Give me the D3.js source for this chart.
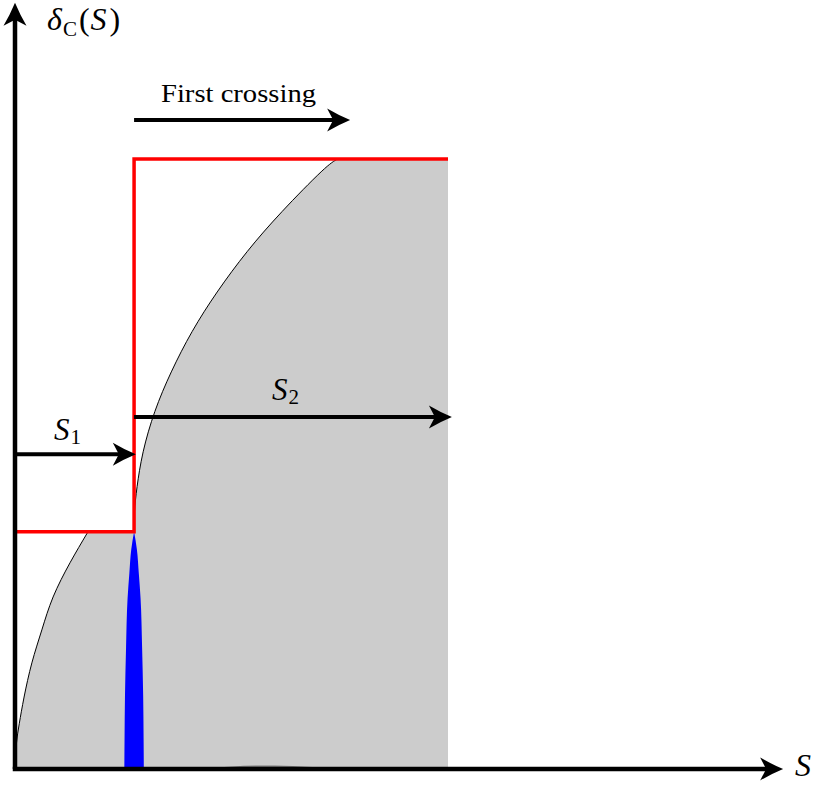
<!doctype html>
<html lang="en">
  <head>
    <meta charset="utf-8">
    <script src="https://cdn.jsdelivr.net/npm/d3@7"></script>
    <style>
      body {margin:0; background:white}
      svg {display:block}
      text {font-family: 'Liberation Serif', 'DejaVu Serif', 'Times New Roman', serif; fill:black}
    </style>
    <title>First crossing</title>
  </head>
  <body>
    <script>
      // left branch of the barrier curve (S, delta), from the origin up to the first red level
      const leftCurveS     = [0, 0.03, 0.10, 0.21, 0.39, 0.62, 0.88, 1.27, 1.67];
      const leftCurveDelta = [0, 0.40, 0.75, 1.18, 1.74, 2.28, 2.82, 3.38, 3.87];

      // right branch, starting at the step S1 and reaching the upper red level
      const rightCurveS     = [2.75, 2.76, 2.82, 2.96, 3.23, 3.61, 4.09, 4.67, 5.36, 6.17, 7.07, 7.45];
      const rightCurveDelta = [3.89, 4.22, 4.63, 5.20, 5.86, 6.51, 7.17, 7.82, 8.48, 9.14, 9.79, 10.0];

      // red step barrier
      const stepS     = [0, 2.75, 2.75, 10];
      const stepDelta = [3.89, 3.89, 10, 10];

      const grayEndS = 10;   // right edge of shaded region
      const topDelta = 10;

      // blue spike at S1: delta levels and half widths in S
      const s1 = 2.75;
      const blueDelta = [0, 0.5, 1.2, 2.0, 2.8, 3.2, 3.6, 3.89];
      const blueHalf  = [0.225, 0.22, 0.21, 0.185, 0.15, 0.11, 0.065, 0];

      // faint hump on the S axis
      const humpS = [4.3, 5.0, 5.8, 6.6, 7.6];
      const humpH = [0, 0.045, 0.065, 0.045, 0];

      // arrows: [fromS, toS, delta]
      const arrowS1    = [0, 2.79, 5.16];
      const arrowS2    = [2.75, 10.09, 5.77];
      const arrowFirst = [2.75, 7.74, 10.64];
      const axisEndS = 17.74;
      const axisEndDelta = 12.56;

      const W = 819, H = 787;
      let x = d3.scaleLinear().domain([0, 10]).range([15, 448]);
      let y = d3.scaleLinear().domain([0, 10]).range([769, 159]);

      let svg = d3.select("body").append("svg")
        .attr("width", W)
        .attr("height", H);

      // arrowhead marker (stealth-like); line stops 8px before the tip
      let defs = svg.append("defs");
      defs.append("marker")
        .attr("id", "head")
        .attr("markerUnits", "userSpaceOnUse")
        .attr("viewBox", "-1 -13 26 26")
        .attr("markerWidth", 26)
        .attr("markerHeight", 26)
        .attr("refX", 15)
        .attr("refY", 0)
        .attr("orient", "auto")
        .append("path")
        .attr("d", "M23,0 Q11,5 0,11.5 L6,0 L0,-11.5 Q11,-5 23,0 Z")
        .attr("fill", "black");

      let pts = (sArr, dArr) => sArr.map((s, i) => [s, dArr[i]]);
      let leftPts = pts(leftCurveS, leftCurveDelta);
      let rightPts = pts(rightCurveS, rightCurveDelta);

      let curveLine = d3.line()
        .x(d => x(d[0]))
        .y(d => y(d[1]))
        .curve(d3.curveNatural);

      // shaded region
      let region = curveLine(leftPts)
        + "L" + curveLine(rightPts).slice(1)
        + "L" + x(grayEndS) + "," + y(topDelta)
        + "L" + x(grayEndS) + "," + y(0) + "Z";
      svg.append("path")
        .attr("d", region)
        .attr("fill", "#cccccc");

      // faint hump near the axis
      svg.append("path")
        .datum(pts(humpS, humpH))
        .attr("d", d3.area().x(d => x(d[0])).y0(y(0)).y1(d => y(d[1])).curve(d3.curveBasis))
        .attr("fill", "#555")
        .attr("opacity", 0.7);

      // curve outlines
      svg.append("path")
        .attr("d", curveLine(leftPts))
        .attr("fill", "none")
        .attr("stroke", "black")
        .attr("stroke-width", 1);
      svg.append("path")
        .attr("d", curveLine(rightPts))
        .attr("fill", "none")
        .attr("stroke", "black")
        .attr("stroke-width", 1);

      // blue spike
      svg.append("path")
        .datum(blueDelta.map((d, i) => ({d: d, h: blueHalf[i]})))
        .attr("d", d3.area()
          .y(p => y(p.d))
          .x0(p => x(s1 - p.h))
          .x1(p => x(s1 + p.h))
          .curve(d3.curveMonotoneY))
        .attr("fill", "#0000ff");

      // red step
      svg.append("path")
        .attr("d", d3.line().x(d => x(d[0])).y(d => y(d[1]))(pts(stepS, stepDelta)))
        .attr("fill", "none")
        .attr("stroke", "#ff0000")
        .attr("stroke-width", 3.5);

      // arrows
      [arrowS1, arrowS2, arrowFirst].forEach(a => {
        svg.append("line")
          .attr("x1", x(a[0])).attr("x2", x(a[1]) - 8)
          .attr("y1", y(a[2])).attr("y2", y(a[2]))
          .attr("stroke", "black")
          .attr("stroke-width", 4)
          .attr("marker-end", "url(#head)");
      });

      // axes
      svg.append("line")
        .attr("x1", x(0) - 2.25).attr("x2", x(axisEndS) - 8)
        .attr("y1", y(0)).attr("y2", y(0))
        .attr("stroke", "black")
        .attr("stroke-width", 4.5)
        .attr("marker-end", "url(#head)");
      svg.append("line")
        .attr("x1", x(0)).attr("x2", x(0))
        .attr("y1", y(0)).attr("y2", y(axisEndDelta) + 8)
        .attr("stroke", "black")
        .attr("stroke-width", 4.5)
        .attr("marker-end", "url(#head)");

      // labels
      let yLab = svg.append("text")
        .attr("x", 47).attr("y", 30)
        .attr("font-size", 32);
      yLab.append("tspan").attr("font-style", "italic").text("δ");
      yLab.append("tspan").attr("dx", 1).attr("font-size", 21).attr("dy", 6).text("C");
      yLab.append("tspan").attr("dx", 2).attr("dy", -6).text("(");
      yLab.append("tspan").attr("dx", 1).attr("font-style", "italic").text("S");
      yLab.append("tspan").attr("dx", 3).text(")");

      svg.append("text")
        .attr("x", 795).attr("y", 776)
        .attr("font-size", 32)
        .attr("font-style", "italic")
        .text("S");

      let s1Lab = svg.append("text")
        .attr("x", 54).attr("y", 440)
        .attr("font-size", 31);
      s1Lab.append("tspan").attr("font-style", "italic").text("S");
      s1Lab.append("tspan").attr("dx", 1).attr("font-size", 21).attr("dy", 4).text("1");

      let s2Lab = svg.append("text")
        .attr("x", 272).attr("y", 400)
        .attr("font-size", 31);
      s2Lab.append("tspan").attr("font-style", "italic").text("S");
      s2Lab.append("tspan").attr("dx", 1).attr("font-size", 21).attr("dy", 4).text("2");

      svg.append("text")
        .attr("x", 161).attr("y", 102)
        .attr("font-size", 26)
        .attr("textLength", 155)
        .attr("lengthAdjust", "spacingAndGlyphs")
        .text("First crossing");
    </script>
  </body>
</html>
